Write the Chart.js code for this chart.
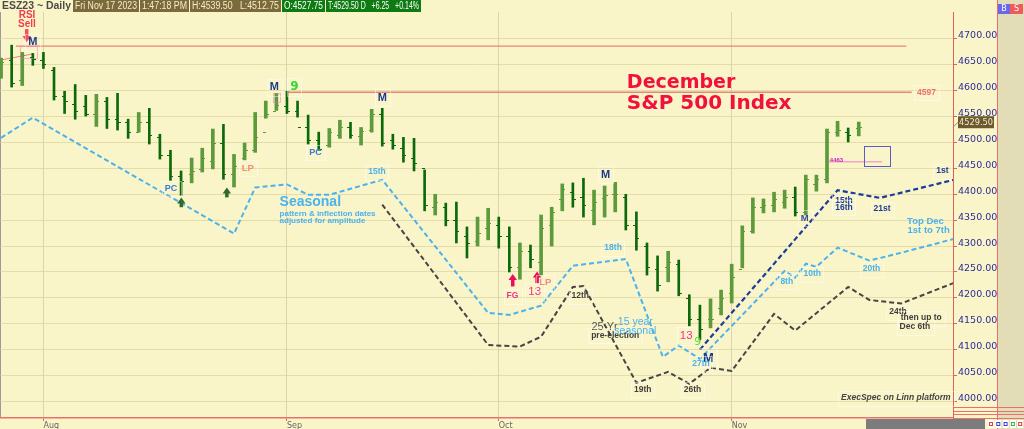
<!DOCTYPE html>
<html lang="en">
<head>
<meta charset="UTF-8">
<title>ESZ23 Daily - December S&amp;P 500 Index seasonal</title>
<script src="https://cdn.jsdelivr.net/npm/chart.js"></script>
<style>
  html, body { margin: 0; padding: 0; background: #FAF5C9; }
  #wrap { width: 1024px; height: 429px; position: relative; }
</style>
</head>
<body>
<div id="wrap"><canvas id="esChart"></canvas></div>
<script>
// trading days from Jul 26 2023; the position in this list is the x value
const dates = [
  '07-26','07-27','07-28','07-31',
  '08-01','08-02','08-03','08-04','08-07','08-08','08-09','08-10','08-11','08-14','08-15','08-16',
  '08-17','08-18','08-21','08-22','08-23','08-24','08-25','08-28','08-29','08-30','08-31',
  '09-01','09-05','09-06','09-07','09-08','09-11','09-12','09-13','09-14','09-15','09-18','09-19',
  '09-20','09-21','09-22','09-25','09-26','09-27','09-28','09-29',
  '10-02','10-03','10-04','10-05','10-06','10-09','10-10','10-11','10-12','10-13','10-16','10-17',
  '10-18','10-19','10-20','10-23','10-24','10-25','10-26','10-27','10-30','10-31',
  '11-01','11-02','11-03','11-06','11-07','11-08','11-09','11-10','11-13','11-14','11-15','11-16','11-17',
  '11-20','11-21','11-22','11-24','11-27','11-28','11-29','11-30','12-01'
];
const monthLabels = ['Aug', 'Sep', 'Oct', 'Nov'];
const priceTicks = [4000, 4050, 4100, 4150, 4200, 4250, 4300, 4350, 4400, 4450, 4500, 4550, 4600, 4650, 4700];

// daily OHLC bars, ESZ23
const opens  = [4630,4660,4620,4665,4660,4640,4590,4575,4570,4556,4580,4545,4540,4520,4540,4510,4475,4435,4440,4448,
                4465,4500,4440,4470,4485,4520,4560,4570,4560,4530,4505,4495,4515,4530,4512,4525,4555,4505,4490,4470,
                4450,4375,4375,4350,4320,4310,4335,4340,4320,4260,4290,4270,4340,4390,4405,4395,4370,4392,4400,4395,
                4340,4300,4255,4260,4265,4200,4160,4160,4180,4210,4255,4330,4375,4380,4385,4395,4365,4420,4430,4520,
                4520,4527.75];
const highs  = [4663,4688,4674,4672,4674,4645,4599,4612,4591,4593,4587,4595,4545,4558,4566,4516,4485,4445,4470,4489,
                4526,4535,4477,4499,4558,4580,4595,4599,4580,4553,4520,4527,4543,4539,4529,4564,4566,4516,4510,4508,
                4447,4400,4383,4385,4337,4356,4373,4356,4337,4306,4302,4360,4375,4420,4422,4431,4408,4416,4423,4400,
                4366,4306,4281,4290,4273,4206,4186,4198,4215,4265,4339,4393,4391,4404,4408,4414,4437,4437,4526,4541,
                4528,4539.5];
const lows   = [4624,4607,4610,4649,4643,4582,4556,4545,4551,4531,4527,4524,4508,4520,4497,4468,4427,4398,4422,4443,
                4449,4429,4414,4466,4481,4547,4562,4556,4549,4497,4485,4491,4508,4508,4495,4520,4493,4487,4462,4445,
                4368,4360,4339,4306,4277,4300,4312,4296,4250,4236,4258,4244,4300,4368,4375,4356,4341,4356,4366,4331,
                4292,4244,4213,4231,4204,4146,4119,4142,4167,4190,4258,4325,4364,4366,4373,4358,4360,4406,4422,4512,
                4501,4512.75];
const closes = [4655,4615,4668,4662,4652,4590,4580,4560,4555,4580,4545,4540,4520,4540,4515,4475,4435,4425,4445,4470,
                4500,4440,4455,4485,4510,4555,4572,4560,4530,4505,4488,4520,4530,4515,4522,4555,4500,4495,4475,4460,
                4380,4385,4350,4330,4305,4325,4345,4320,4260,4290,4275,4335,4365,4410,4390,4380,4385,4398,4400,4340,
                4315,4260,4225,4270,4210,4160,4140,4160,4200,4240,4330,4375,4380,4390,4395,4365,4430,4430,4520,4525,
                4515,4529.5];

// seasonal pattern, adjusted for amplitude (day index, price)
const seasonalDay   = [0, 3, 22, 24, 27, 29, 31, 36, 46, 48, 51, 54, 59, 62.5, 64, 66, 74, 75, 76, 77, 79, 82, 85, 90];
const seasonalPrice = [4509, 4548, 4324, 4413, 4419, 4399, 4399, 4428, 4171, 4167, 4185, 4262, 4275, 4086, 4108, 4082,
                       4252, 4239, 4266, 4260, 4297, 4272, 4287, 4314];
// 25 yr pre-election seasonal
const preElectionDay   = [36, 46, 49, 51, 54, 55, 60, 63, 65, 67, 69, 73, 75, 80, 82, 85, 90];
const preElectionPrice = [4380, 4109, 4106, 4125, 4221, 4223, 4036, 4057, 4034, 4065, 4059, 4169, 4137, 4221, 4196, 4189, 4229];
// projection from the Oct 27 low
const lowPathDay   = [66, 79, 80, 83, 90];
const lowPathPrice = [4100, 4408, 4404, 4393, 4428];

// horizontal levels
const levelPrice = [4686, 4597, 4463];
const levelFrom  = [1.4, 27.1, 78.1];
const levelTo    = [85.5, 86.0, 83.2];
const rsiTrendDay = [-0.1, 3.0];
const rsiTrendPrice = [4659, 4671];

const lastBar = closes.length - 1;
const monthStarts = dates.map((d, i) => i).filter(i => i > 0 && i <= lastBar && dates[i].slice(0, 2) !== dates[i - 1].slice(0, 2));

const upColor = '#5C9A3C';
const downColor = '#0B680B';
const lightBlue = '#4AB2EE';
const navy = '#1A3C9A';
const darkGray = '#454545';
const levelRed = '#E8857A';
const fam = '"DejaVu Sans", sans-serif';
const lib = '"Liberation Sans", sans-serif';

const styles = {
  m:      { font: 'bold 11px ' + lib, color: '#1B3A8C', box: true },
  mBig:   { font: 'bold 13px ' + lib, color: '#1B3A8C', box: true },
  mSmall: { font: 'bold 9.5px ' + lib, color: '#3A4E9E', box: true },
  nine:   { font: 'bold 12px ' + fam, color: '#33D633', box: true },
  nineS:  { font: '11px ' + fam, color: '#55DD33' },
  pc:     { font: 'bold 9px ' + lib, color: '#3C78D8', box: true },
  lp:     { font: 'bold 9.5px ' + lib, color: '#F38A80', box: true },
  rsi:    { font: 'bold 10px ' + lib, color: '#F03C50' },
  blue8:  { font: 'bold 8.5px ' + lib, color: lightBlue, box: true },
  navy8:  { font: 'bold 8.5px ' + lib, color: navy, box: true },
  gray8:  { font: 'bold 8.5px ' + lib, color: '#3E3E3E', box: true },
  big:    { font: 'bold 14px ' + lib, color: lightBlue },
  sub:    { font: 'bold 8px ' + lib, color: lightBlue },
  title1: { font: 'bold 19px ' + fam, color: '#F2103C' },
  title2: { font: 'bold 20px ' + fam, color: '#F2103C' },
  thirteen: { font: '11.5px ' + lib, color: '#F0348C', box: true },
  fg:     { font: 'bold 8.5px ' + lib, color: '#F0348C', box: true },
  gray11: { font: '11px ' + lib, color: '#555555' },
  blue11: { font: '10.5px ' + lib, color: lightBlue },
  topDec: { font: 'bold 9.5px ' + lib, color: lightBlue },
  credit: { font: 'italic bold 8.5px ' + lib, color: '#444444', box: true },
  lvl:    { font: 'bold 8.5px ' + lib, color: '#F07070', box: true },
  tiny:   { font: 'bold 6px ' + lib, color: '#D020C0' }
};

// text notes: [text, day index, price, style, align]
const notes = [
  ['RSI', 2.45, 4745, 'rsi'], ['Sell', 2.45, 4729, 'rsi'], ['M', 3.0, 4694, 'm'],
  ['M', 25.8, 4607, 'm'], ['9', 27.7, 4607, 'nine'], ['M', 36.0, 4586, 'm'],
  ['PC', 16.05, 4412, 'pc'], ['LP', 23.3, 4451, 'lp'], ['PC', 29.7, 4480, 'pc'],
  ['Seasonal', 26.3, 4384, 'big', 'left'],
  ['pattern & inflection dates', 26.3, 4363, 'sub', 'left'],
  ['adjusted for amplitude', 26.3, 4348, 'sub', 'left'],
  ['15th', 35.5, 4443, 'blue8'],
  ['December', 59.1, 4615, 'title1', 'left'], ['S&P 500 Index', 59.1, 4575, 'title2', 'left'],
  ['M', 57.1, 4438, 'm'], ['18th', 57.8, 4296, 'blue8'], ['12th', 54.7, 4204, 'gray8'],
  ['FG', 48.3, 4204, 'fg'], ['13', 50.4, 4212, 'thirteen'], ['LP', 51.4, 4229, 'lp'],
  ['25 Yr', 57.0, 4144, 'gray11'], ['pre-election', 58.0, 4127, 'gray8'],
  ['15 year', 59.9, 4154, 'blue11'], ['seasonal', 59.9, 4135, 'blue11'],
  ['13', 64.7, 4127, 'thirteen'], ['9', 65.8, 4115, 'nineS'], ['M', 66.8, 4084, 'mBig'],
  ['27th', 66.1, 4073, 'blue8'], ['19th', 60.6, 4023, 'gray8'], ['26th', 65.3, 4023, 'gray8'],
  ['4463', 78.9, 4466, 'tiny'], ['M', 75.9, 4354, 'mSmall'],
  ['8th', 74.2, 4232, 'blue8'], ['10th', 76.6, 4246, 'blue8'], ['20th', 82.2, 4256, 'blue8'],
  ['15th', 79.6, 4387, 'navy8'], ['16th', 79.6, 4374, 'navy8'], ['21st', 83.2, 4372, 'navy8'],
  ['1st', 88.9, 4445, 'navy8'], ['Top Dec', 87.3, 4347, 'topDec'], ['1st to 7th', 87.6, 4330, 'topDec'],
  ['24th', 84.7, 4173, 'gray8'], ['then up to', 86.9, 4161, 'gray8'], ['Dec 6th', 86.3, 4144, 'gray8'],
  ['ExecSpec on Linn platform', 84.5, 4007, 'credit'], ['4597', 87.4, 4597, 'lvl']
];
// arrows: [day index, tail price, head price, colour]
const arrows = [
  [2.4, 4719, 4694, '#F05060'],
  [17.0, 4375, 4394, '#2E6A2E'], [21.3, 4394, 4413, '#2E6A2E'],
  [48.3, 4222, 4246, '#E8105A'], [50.6, 4228, 4251, '#E8105A']
];
// boxes: [from day, to day, top price, bottom price, colour, dashed]
const boxes = [
  [1.8, 3.4, 4687, 4664, '#F070B0', true],
  [25.7, 26.4, 4595, 4577, '#F070B0', true],
  [81.5, 84.0, 4493, 4455, '#5A5AC8', false]
];

const headerBoxes = [
  { text: 'Fri Nov 17 2023', x0: 73, x1: 139, bg: '#7B6A3C', fg: '#F6ECC8' },
  { text: '1:47:18 PM', x0: 140, x1: 189, bg: '#7B6A3C', fg: '#F6ECC8' },
  { text: 'H:4539.50   L:4512.75', x0: 190, x1: 281, bg: '#7B6A3C', fg: '#F6ECC8' },
  { text: 'O:4527.75', x0: 282, x1: 325, bg: '#0E7A12', fg: '#FFFFFF' },
  { text: 'T:4529.50 D   +6.25   +0.14%', x0: 326, x1: 421, bg: '#0E7A12', fg: '#FFFFFF' }
];

const upBars = [], downBars = [];
closes.forEach((c, i) => {
  const pt = { x: i, y: [lows[i], highs[i]] };
  (c >= opens[i] ? upBars : downBars).push(pt);
});
const pairs = (xs, ys) => xs.map((x, i) => ({ x: x, y: ys[i] }));

const lineSet = (data, color, dash, width) => ({
  type: 'line', data: data, borderColor: color, borderWidth: width, borderDash: dash,
  pointRadius: 0, fill: false, tension: 0, order: 1
});

const chrome = {
  id: 'chrome',
  beforeDraw(chart) {
    const { ctx, width, height, chartArea } = chart;
    ctx.save();
    ctx.fillStyle = '#FAF5C9';
    ctx.fillRect(0, 0, width, height);
    const panelX = chartArea.right + 44;
    ctx.fillStyle = '#E2DDB6';
    ctx.fillRect(panelX, 0, width - panelX, height);
    ctx.strokeStyle = '#E87070';
    ctx.lineWidth = 1;
    ctx.beginPath();
    ctx.moveTo(panelX + 0.5, 0); ctx.lineTo(panelX + 0.5, height);
    [407, 411, 414, 418].forEach(y => { ctx.moveTo(chartArea.right, y + 0.5); ctx.lineTo(width, y + 0.5); });
    ctx.stroke();
    ctx.strokeStyle = '#9A9A9A';
    ctx.beginPath(); ctx.moveTo(0.5, chartArea.top); ctx.lineTo(0.5, chartArea.bottom); ctx.stroke();
    ctx.restore();
  },
  afterDatasetsDraw(chart) {
    const { ctx } = chart;
    const xs = chart.scales.x, ys = chart.scales.y;
    ctx.save();
    // open / close ticks
    ctx.lineWidth = 1;
    closes.forEach((c, i) => {
      const x = Math.round(xs.getPixelForValue(i));
      const yo = Math.round(ys.getPixelForValue(opens[i])) + 0.5;
      const yc = Math.round(ys.getPixelForValue(c)) + 0.5;
      ctx.strokeStyle = c >= opens[i] ? upColor : downColor;
      ctx.beginPath();
      ctx.moveTo(x - 3, yo); ctx.lineTo(x, yo);
      ctx.moveTo(x, yc); ctx.lineTo(x + 3, yc);
      ctx.stroke();
    });
    // boxes
    boxes.forEach(b => {
      const x0 = xs.getPixelForValue(b[0]), x1 = xs.getPixelForValue(b[1]);
      const y0 = ys.getPixelForValue(b[2]), y1 = ys.getPixelForValue(b[3]);
      ctx.strokeStyle = b[4];
      ctx.setLineDash(b[5] ? [1, 1] : []);
      ctx.strokeRect(Math.round(x0) + 0.5, Math.round(y0) + 0.5, Math.round(x1 - x0), Math.round(y1 - y0));
    });
    ctx.setLineDash([]);
    // arrows
    arrows.forEach(a => {
      const x = xs.getPixelForValue(a[0]);
      const yt = ys.getPixelForValue(a[1]), yh = ys.getPixelForValue(a[2]);
      const dir = yh < yt ? 1 : -1;
      ctx.fillStyle = a[3];
      ctx.fillRect(x - 1.5, Math.min(yt, yh + dir * 5), 3.5, Math.abs(yt - yh) - 5);
      ctx.beginPath();
      ctx.moveTo(x - 4, yh + dir * 6); ctx.lineTo(x + 4.5, yh + dir * 6); ctx.lineTo(x + 0.25, yh);
      ctx.closePath(); ctx.fill();
    });
    // text notes
    ctx.textBaseline = 'middle';
    notes.forEach(n => {
      const st = styles[n[3]];
      const align = n[4] || 'center';
      const x = xs.getPixelForValue(n[1]), y = ys.getPixelForValue(n[2]);
      ctx.font = st.font;
      ctx.textAlign = align;
      if (st.box) {
        const w = ctx.measureText(n[0]).width;
        const h = parseFloat(st.font.match(/([\d.]+)px/)[1]);
        const left = align === 'left' ? x : (align === 'right' ? x - w : x - w / 2);
        ctx.strokeStyle = 'rgba(255,255,255,0.9)';
        ctx.setLineDash([1, 1]);
        ctx.strokeRect(Math.round(left - 3) + 0.5, Math.round(y - h / 2 - 3) + 0.5, Math.round(w + 6), Math.round(h + 6));
        ctx.setLineDash([]);
      }
      ctx.fillStyle = st.color;
      ctx.fillText(n[0], x, y);
    });
    ctx.restore();
  },
  afterDraw(chart) {
    const { ctx, chartArea } = chart;
    const ys = chart.scales.y;
    ctx.save();
    // header strip
    ctx.textBaseline = 'middle';
    ctx.textAlign = 'left';
    ctx.font = 'bold 10.5px "Liberation Sans", sans-serif';
    ctx.fillStyle = '#4A4A4A';
    ctx.fillText('ESZ23 ~ Daily', 2, 6.5, 69);
    ctx.font = '10px "Liberation Sans", sans-serif';
    headerBoxes.forEach(b => {
      ctx.fillStyle = b.bg;
      ctx.fillRect(b.x0, 0, b.x1 - b.x0, 12);
      ctx.fillStyle = b.fg;
      ctx.fillText(b.text, b.x0 + 2, 6.5, b.x1 - b.x0 - 4);
    });
    // last price tag
    const yl = ys.getPixelForValue(closes[lastBar]) - 5;
    ctx.strokeStyle = '#8A8A7A';
    ctx.beginPath(); ctx.moveTo(chartArea.right, yl + 5); ctx.lineTo(chartArea.right + 5, yl); ctx.stroke();
    ctx.fillStyle = '#6B5A2E';
    ctx.fillRect(chartArea.right + 5, yl - 6, 36, 12);
    ctx.fillStyle = '#F4ECCC';
    ctx.font = '9.5px "DejaVu Sans", sans-serif';
    ctx.fillText(closes[lastBar].toFixed(2), chartArea.right + 6, yl, 34);
    // B / S buttons
    const panelX = chartArea.right + 44;
    ctx.fillStyle = '#6A6AE8'; ctx.fillRect(panelX + 1, 4, 12, 10);
    ctx.fillStyle = '#F05A5A'; ctx.fillRect(panelX + 13, 4, 13, 10);
    ctx.fillStyle = '#FFFFFF'; ctx.font = '8px "DejaVu Sans", sans-serif';
    ctx.textAlign = 'center';
    ctx.fillText('B', panelX + 7, 9); ctx.fillText('S', panelX + 19.5, 9);
    // bottom strip
    ctx.fillStyle = '#7C7C7C';
    ctx.fillRect(866, 419, 119, 10);
    ['#E04040', '#4040D0', '#4040D0', '#40B040', '#E04040'].forEach((c, i) => {
      const x = 988 + i * 7.3;
      ctx.fillStyle = '#FFFFFF'; ctx.fillRect(x, 420, 6, 8);
      ctx.strokeStyle = c; ctx.strokeRect(x + 1.5, 422.5, 3, 3);
    });
    ctx.restore();
  }
};

new Chart(document.getElementById('esChart'), {
  type: 'bar',
  data: {
    datasets: [
      { type: 'bar', data: upBars, backgroundColor: upColor, barThickness: 3, grouped: false, order: 0 },
      { type: 'bar', data: downBars, backgroundColor: downColor, barThickness: 2, grouped: false, order: 0 },
      lineSet(pairs(seasonalDay, seasonalPrice), lightBlue, [5, 3], 2),
      lineSet(pairs(preElectionDay, preElectionPrice), darkGray, [5, 3], 2),
      lineSet(pairs(lowPathDay, lowPathPrice), navy, [5, 3], 2.2),
      lineSet(pairs(rsiTrendDay, rsiTrendPrice), '#F08080', [], 1),
      ...levelPrice.map((p, i) => lineSet([{ x: levelFrom[i], y: p }, { x: levelTo[i], y: p }],
        i === 2 ? '#F2A6CC' : levelRed, [], i === 2 ? 1.5 : 1.3))
    ]
  },
  options: {
    responsive: true,
    maintainAspectRatio: false,
    animation: false,
    layout: { padding: { top: 12, right: 27, left: 0, bottom: 0 } },
    plugins: { legend: { display: false }, tooltip: { enabled: false } },
    scales: {
      x: {
        type: 'linear', min: -0.1, max: 89.9, offset: false,
        afterFit(s) { s.height = 11; },
        afterBuildTicks(s) { s.ticks = monthStarts.map(v => ({ value: v })); },
        ticks: {
          callback: v => monthLabels[monthStarts.indexOf(v)],
          color: '#666666', font: { family: 'DejaVu Sans', size: 8 },
          padding: 0, maxRotation: 0, autoSkip: false, align: 'start'
        },
        grid: { color: 'rgba(205,198,160,0.7)', tickColor: '#E06060', tickLength: 3, offset: false },
        border: { color: '#E87070', width: 1.5 }
      },
      y: {
        position: 'right', min: 3968, max: 4752,
        afterFit(s) { s.width = 44; },
        afterBuildTicks(s) { s.ticks = priceTicks.map(v => ({ value: v })); },
        ticks: {
          callback: v => v.toFixed(2),
          color: '#2B2B9B', font: { family: 'DejaVu Sans', size: 9.5 },
          padding: 1, labelOffset: -3
        },
        grid: { color: 'rgba(214,205,150,0.6)', tickColor: '#E06060', tickLength: 4 },
        border: { color: '#E06060', width: 1 }
      }
    }
  },
  plugins: [chrome]
});
</script>
</body>
</html>
